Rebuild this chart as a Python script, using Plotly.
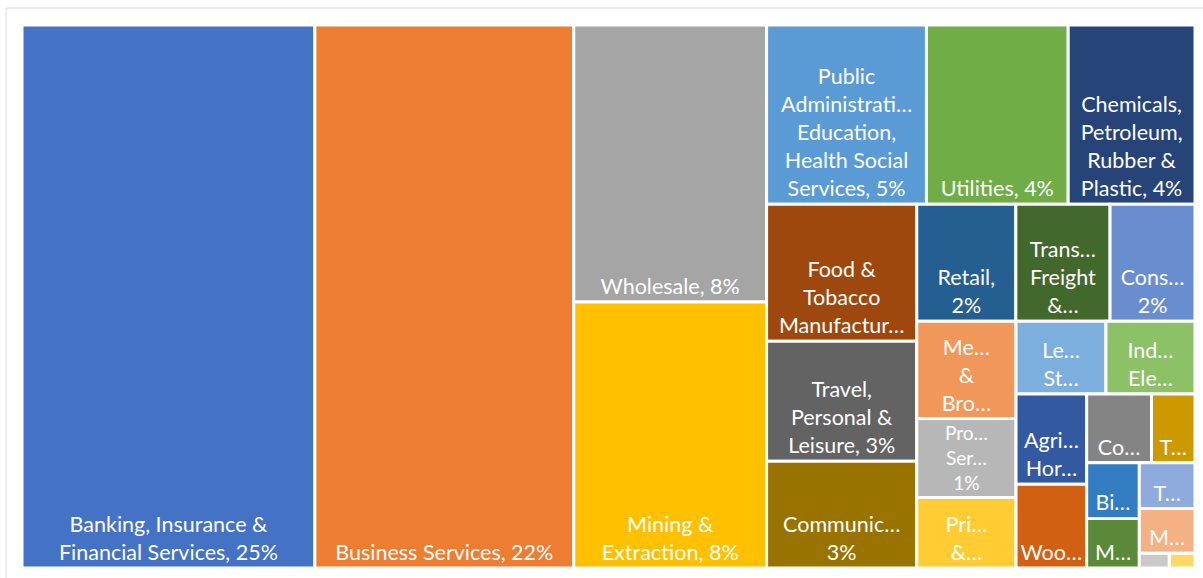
import plotly.graph_objects as go

sectors = [
    "Banking, Insurance & Financial Services",
    "Business Services",
    "Wholesale",
    "Mining & Extraction",
    "Public Administration, Education, Health Social Services",
    "Utilities",
    "Chemicals, Petroleum, Rubber & Plastic",
    "Food & Tobacco Manufacturing",
    "Travel, Personal & Leisure",
    "Communications",
    "Retail",
    "Transport, Freight & Storage",
    "Construction",
    "Media & Broadcasting",
    "Property Services",
    "Printing & Publishing",
    "Leather, Stone, Clay & Glass products",
    "Industrial, Electric & Electronic Machinery",
    "Agriculture, Horticulture & Livestock",
    "Wood, Furniture & Paper Manufacturing",
    "Computer Software",
    "Textiles & Clothing Manufacturing",
    "Biotechnology and Life Sciences",
    "Metals & Metal Products",
    "Transport Manufacturing",
    "Miscellaneous Manufacturing",
    "Computer Hardware",
    "Waste Management & Treatment",
]

shares = [24.98, 22.08, 8.39, 8.06, 4.50, 3.99, 3.57, 3.23, 2.83, 2.52,
          1.82, 1.73, 1.56, 1.52, 1.23, 1.10, 1.03, 1.02, 1.00, 0.93,
          0.70, 0.47, 0.46, 0.41, 0.40, 0.39, 0.07, 0.06]

shown_labels = [
    "Banking, Insurance &<br>Financial Services, 25%",
    "Business Services, 22%",
    "Wholesale, 8%",
    "Mining &<br>Extraction, 8%",
    "Public<br>Administrati…<br>Education,<br>Health Social<br>Services, 5%",
    "Utilities, 4%",
    "Chemicals,<br>Petroleum,<br>Rubber &<br>Plastic, 4%",
    "Food &<br>Tobacco<br>Manufactur…",
    "Travel,<br>Personal &<br>Leisure, 3%",
    "Communic…<br>3%",
    "Retail,<br>2%",
    "Trans…<br>Freight<br>&…",
    "Cons…<br>2%",
    "Me…<br>&<br>Bro…",
    "Pro…<br>Ser…<br>1%",
    "Pri…<br>&…",
    "Le…<br>St…",
    "Ind…<br>Ele…",
    "Agri…<br>Hor…",
    "Woo…",
    "Co…",
    "T…",
    "Bi…",
    "M…",
    "T…",
    "M…",
    "",
    "",
]

colors = ["#4472C4", "#ED7D31", "#A5A5A5", "#FFC000", "#5B9BD5", "#70AD47",
          "#264478", "#9E480E", "#636363", "#997300", "#255E91", "#43682B",
          "#698ED0", "#F1975A", "#B7B7B7", "#FFCD33", "#7CAFDD", "#8CC168",
          "#335AA1", "#D26012", "#848484", "#CC9A00", "#327DC2", "#5A8A39",
          "#8FAADC", "#F4B183", "#C9C9C9", "#FFD966"]

fig = go.Figure(go.Treemap(
    labels=sectors,
    parents=[""] * len(sectors),
    values=shares,
    text=shown_labels,
    texttemplate="%{text}",
    textposition="bottom center",
    textfont=dict(family="Lato", size=21.5, color="white"),
    marker=dict(colors=colors, line=dict(color="white", width=3),
                pad=dict(t=0, l=0, r=0, b=0)),
    tiling=dict(packing="squarify", squarifyratio=1, pad=0),
    pathbar=dict(visible=False),
    root=dict(color="white"),
    sort=True,
    hovertemplate="%{label}: %{value}%<extra></extra>",
))

fig.update_layout(
    width=1203, height=578,
    margin=dict(l=22, r=8, t=25, b=10),
    paper_bgcolor="white",
    plot_bgcolor="white",
    shapes=[dict(type="rect", xref="paper", yref="paper",
                 x0=-0.0136, x1=1.05, y0=-0.1, y1=1.0313,
                 line=dict(color="#D9D9D9", width=1), fillcolor="rgba(0,0,0,0)")],
)

fig.write_html("out.html", config={"displayModeBar": False},
               post_script="document.body.style.margin='0';")
